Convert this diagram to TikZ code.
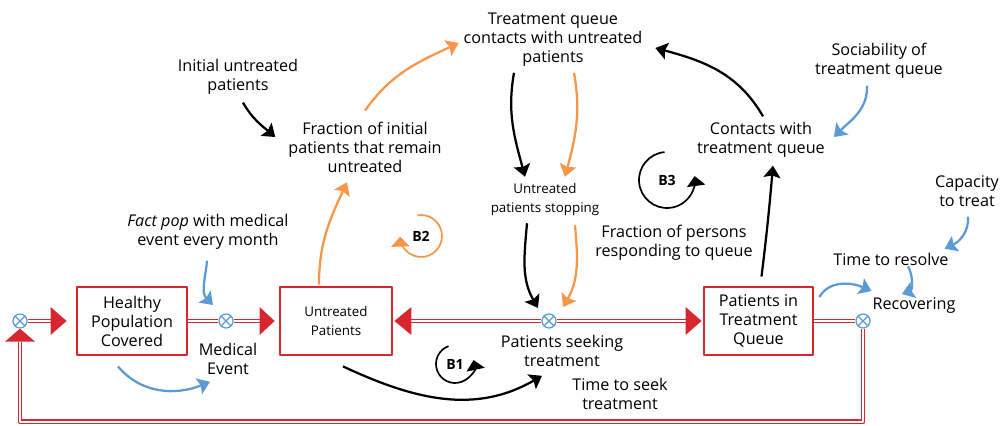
\documentclass[tikz,border=0pt]{standalone}
\usepackage{fontspec}
\setmainfont{Open Sans}
\usetikzlibrary{arrows.meta}
\definecolor{pipered}{HTML}{D7262F}
\definecolor{linkblue}{HTML}{5B9BD5}
\definecolor{linkorange}{HTML}{F79646}
\begin{document}
\begin{tikzpicture}[x=0.025cm, y=0.025cm, font=\fontsize{11.5}{13.5}\selectfont, line join=round,
	>={Stealth[length=8.5pt,width=12pt,inset=1.5pt]},
	stock/.style={draw=pipered, line width=2pt, fill=white, minimum width=2.75cm, minimum height=1.7cm, align=center, inner sep=2pt},
	var/.style={align=center, inner sep=2pt},
	valve/.style={circle, draw=linkblue, line width=0.9pt, fill=white, minimum size=0.35cm, inner sep=0pt,
		path picture={\draw[linkblue, line width=0.9pt] (path picture bounding box.south west) -- (path picture bounding box.north east)
			(path picture bounding box.north west) -- (path picture bounding box.south east);}},
	pipe/.style={draw=pipered, double=white, line width=0.9pt, double distance=1.6pt},
	link/.style={line width=1.6pt, ->},
	loopmark/.style={line width=1.2pt, -{Triangle[length=7pt,width=13pt]}}]
	\useasboundingbox (0,0) rectangle (1001,-426);
	% Stocks
	\node[stock] (hpc) at (132,-321) {Healthy\\Population\\Covered};
	\node[stock, font=\fontsize{9.5}{13}\selectfont, minimum width=2.8cm] (upt) at (336,-321) {Untreated\\Patients};
	\node[stock, minimum width=2.725cm] (ptq) at (758.5,-321) {Patients in\\Treatment\\Queue};
	% Valves
	\node[valve] (v0) at (20,-321) {};
	\node[valve] (vme) at (226,-321) {};
	\node[valve] (vps) at (549,-321) {};
	\node[valve] (vrc) at (863,-321) {};
	% Flow names
	\node[var] (mev) at (228,-359) {Medical\\Event};
	\node[var] (pst) at (562,-351) {Patients seeking\\treatment};
	\node[var] (rec) at (914,-306) {Recovering};
	% Auxiliaries
	\node[var] (tqc) at (553,-40) {Treatment queue\\contacts with untreated\\patients};
	\node[var] (iup) at (238,-77) {Initial untreated\\patients};
	\node[var] (fir) at (365,-147) {Fraction of initial\\patients that remain\\untreated};
	\node[var, font=\fontsize{9.5}{13.5}\selectfont] (ups) at (545,-200) {Untreated\\patients stopping};
	\node[var] (cwq) at (761,-140) {Contacts with\\treatment queue};
	\node[var] (soc) at (879,-61) {Sociability of\\treatment queue};
	\node[var] (cap) at (967,-191) {Capacity\\to treat};
	\node[var] (ttr) at (891,-259) {Time to resolve};
	\node[var] (fpr) at (674,-243) {Fraction of persons\\responding to queue};
	\node[var] (fpop) at (208,-232) {\textit{Fact pop} with medical\\event every month};
	\node[var] (tts) at (620,-394) {Time to seek\\treatment};
	% Pipes
	\draw[pipe] (v0.east) -- ([shift={(-25,0)}]hpc.west);
	\draw[pipe] (hpc.east) -- (vme.west);
	\draw[pipe] (vme.east) -- ([shift={(-19,0)}]upt.west);
	\draw[pipe] ([shift={(18,0)}]upt.east) -- (vps.west);
	\draw[pipe] (vps.east) -- ([shift={(-17,0)}]ptq.west);
	\draw[pipe] (ptq.east) -- (vrc.west);
	\draw[pipe] (vrc.south) -- ++(0,-93) -| ([shift={(0,-13)}]v0.south);
	% Pipe heads
	\fill[pipered] ([shift={(-9,0)}]hpc.west) -- ++(-16,14) -- ++(0,-28) -- cycle;
	\fill[pipered] ([shift={(-4,0)}]upt.west) -- ++(-15,14) -- ++(0,-28) -- cycle;
	\fill[pipered] ([shift={(1,0)}]upt.east) -- ++(17,14) -- ++(0,-28) -- cycle;
	\fill[pipered] ([shift={(-1,0)}]ptq.west) -- ++(-16,14) -- ++(0,-28) -- cycle;
	\fill[pipered] (v0.south) -- ++(-15,-13) -- ++(30,0) -- cycle;
	% Black links
	\draw[link] ([shift={(5,-5)}]iup.south) to[out=-60, in=140] ([shift={(-10,10)}]fir.west);
	\draw[link] ([shift={(-39,-3)}]tqc.south) to[out=-100, in=105] ([shift={(-20,4)}]ups.north);
	\draw[link] ([shift={(-18,-4)}]ups.south) to[out=-95, in=120] ([shift={(-11,13)}]vps.center);
	\draw[link] ([shift={(2,3)}]cwq.north) to[out=120, in=-15] ([shift={(10,-8)}]tqc.east);
	\draw[link] ([shift={(3,9)}]ptq.north) to[out=83, in=-95] ([shift={(12,-5)}]cwq.south);
	\draw[link] ([shift={(7,-10)}]upt.south) to[out=-25, in=-150] ([shift={(-20,-6)}]pst.south);
	% Orange links
	\draw[link, linkorange] ([shift={(-17,1)}]upt.north) to[out=90, in=-115] ([shift={(-18,-7)}]fir.south);
	\draw[link, linkorange] ([shift={(0,8)}]fir.north) to[out=55, in=-155] ([shift={(-2,-3)}]tqc.west);
	\draw[link, linkorange] ([shift={(21,-3)}]tqc.south) to[out=-80, in=75] ([shift={(20,4)}]ups.north);
	\draw[link, linkorange] ([shift={(30,-6)}]ups.south) to[out=-85, in=60] ([shift={(14,14)}]vps.center);
	% Blue links
	\draw[link, linkblue] ([shift={(-1,-8)}]fpop.south) to[out=-95, in=135] ([shift={(-13,16)}]vme.center);
	\draw[link, linkblue] ([shift={(-14,-10)}]hpc.south) to[out=-50, in=-158] ([shift={(-18,-4)}]mev.south);
	\draw[link, linkblue] ([shift={(-12,-4)}]soc.south) to[out=-88, in=45] ([shift={(6,3)}]cwq.east);
	\draw[link, linkblue] ([shift={(1,-7)}]cap.south) to[out=-85, in=25] ([shift={(-7,1)}]ttr.north east);
	\draw[link, linkblue] ([shift={(5,24)}]ptq.east) to[out=60, in=156] ([shift={(2,4)}]rec.north west);
	\draw[link, linkblue] ([shift={(17,2)}]ttr.south) to[out=-60, in=20] ([shift={(-12,1)}]rec.north);
	% Loops
	\node[font=\bfseries] (b1) at (455,-364) {B1};
	\draw[loopmark] ([shift={(110:19)}]b1.center) arc[start angle=110, end angle=372, radius=19];
	\node[font=\bfseries] (b2) at (421,-236) {B2};
	\draw[loopmark, linkorange] ([shift={(100:21)}]b2.center) arc[start angle=100, end angle=-178, radius=21];
	\node[font=\bfseries] (b3) at (667,-180) {B3};
	\draw[loopmark] ([shift={(95:28)}]b3.center) arc[start angle=95, end angle=368, radius=28];
\end{tikzpicture}
\end{document}
